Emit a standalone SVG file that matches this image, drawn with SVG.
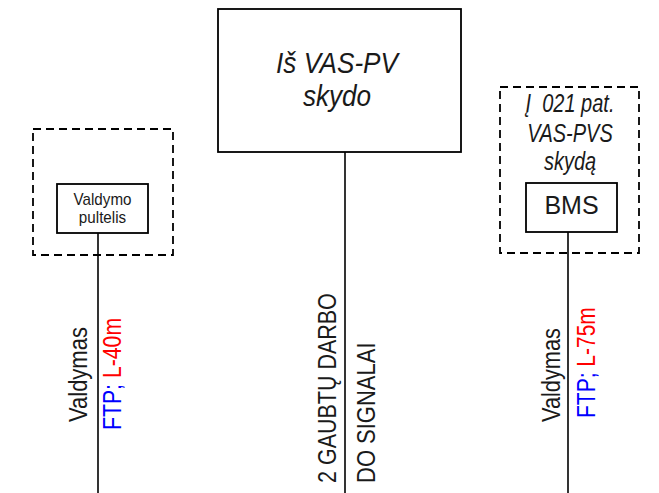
<svg xmlns="http://www.w3.org/2000/svg" width="659" height="493" viewBox="0 0 659 493">
<style>
text{font-family:"Liberation Sans",Arial,sans-serif;fill:#1a1a1a}
.box{fill:#fff;stroke:#000;stroke-width:1.8}
.dash{fill:none;stroke:#000;stroke-width:1.8;stroke-dasharray:8 5}
.wire{stroke:#000;stroke-width:1.6;fill:none}
.it{font-style:italic}
.mid{text-anchor:middle}
.v{font-size:25px}
.blue{fill:#0000ff}
.red{fill:#ff0000}
</style>
<rect width="659" height="493" fill="#fff"/>
<g id="connectors">
<line class="wire" x1="98" y1="233" x2="98" y2="493"/>
<line class="wire" x1="345" y1="152" x2="345" y2="493"/>
<line class="wire" x1="568" y1="232" x2="568" y2="493"/>
</g>
<g id="left-enclosure">
<rect class="dash" x="33" y="129" width="140" height="126"/>
</g>
<g id="valdymo-pultelis">
<rect class="box" x="57" y="184" width="91" height="49"/>
<text class="mid" transform="translate(102.5,205) scale(0.95,1)" font-size="16">Valdymo</text>
<text class="mid" transform="translate(102.5,223) scale(0.95,1)" font-size="16">pultelis</text>
</g>
<g id="vas-pv-skydas">
<rect class="box" x="218" y="9" width="243" height="143"/>
<text class="it mid" transform="translate(337,73) scale(0.87,1)" font-size="30">Iš VAS-PV</text>
<text class="it mid" transform="translate(337,106) scale(0.87,1)" font-size="30">skydo</text>
</g>
<g id="right-enclosure">
<rect class="dash" x="500" y="87" width="139" height="166"/>
<text class="it mid" transform="translate(570,112) scale(0.8,1)" font-size="25" xml:space="preserve">Į  021 pat.</text>
<text class="it mid" transform="translate(570,142) scale(0.8,1)" font-size="25">VAS-PVS</text>
<text class="it mid" transform="translate(570,170) scale(0.8,1)" font-size="25">skydą</text>
</g>
<g id="bms">
<rect class="box" x="526" y="183" width="91" height="49"/>
<text class="mid" x="571.5" y="214" font-size="25">BMS</text>
</g>
<g id="labels">
<text class="v" transform="translate(87,422) rotate(-90) scale(0.88,1)">Valdymas</text>
<text class="v" transform="translate(121,430) rotate(-90) scale(0.85,1)"><tspan class="blue">FTP;</tspan><tspan class="red"> L-40m</tspan></text>
<text class="v" transform="translate(336,483) rotate(-90) scale(0.86,1)">2 GAUBTŲ DARBO</text>
<text class="v" transform="translate(375,483) rotate(-90) scale(0.88,1)">DO SIGNALAI</text>
<text class="v" transform="translate(560,422) rotate(-90) scale(0.87,1)">Valdymas</text>
<text class="v" transform="translate(595,418) rotate(-90) scale(0.84,1)"><tspan class="blue">FTP;</tspan><tspan class="red"> L-75m</tspan></text>
</g>
</svg>
